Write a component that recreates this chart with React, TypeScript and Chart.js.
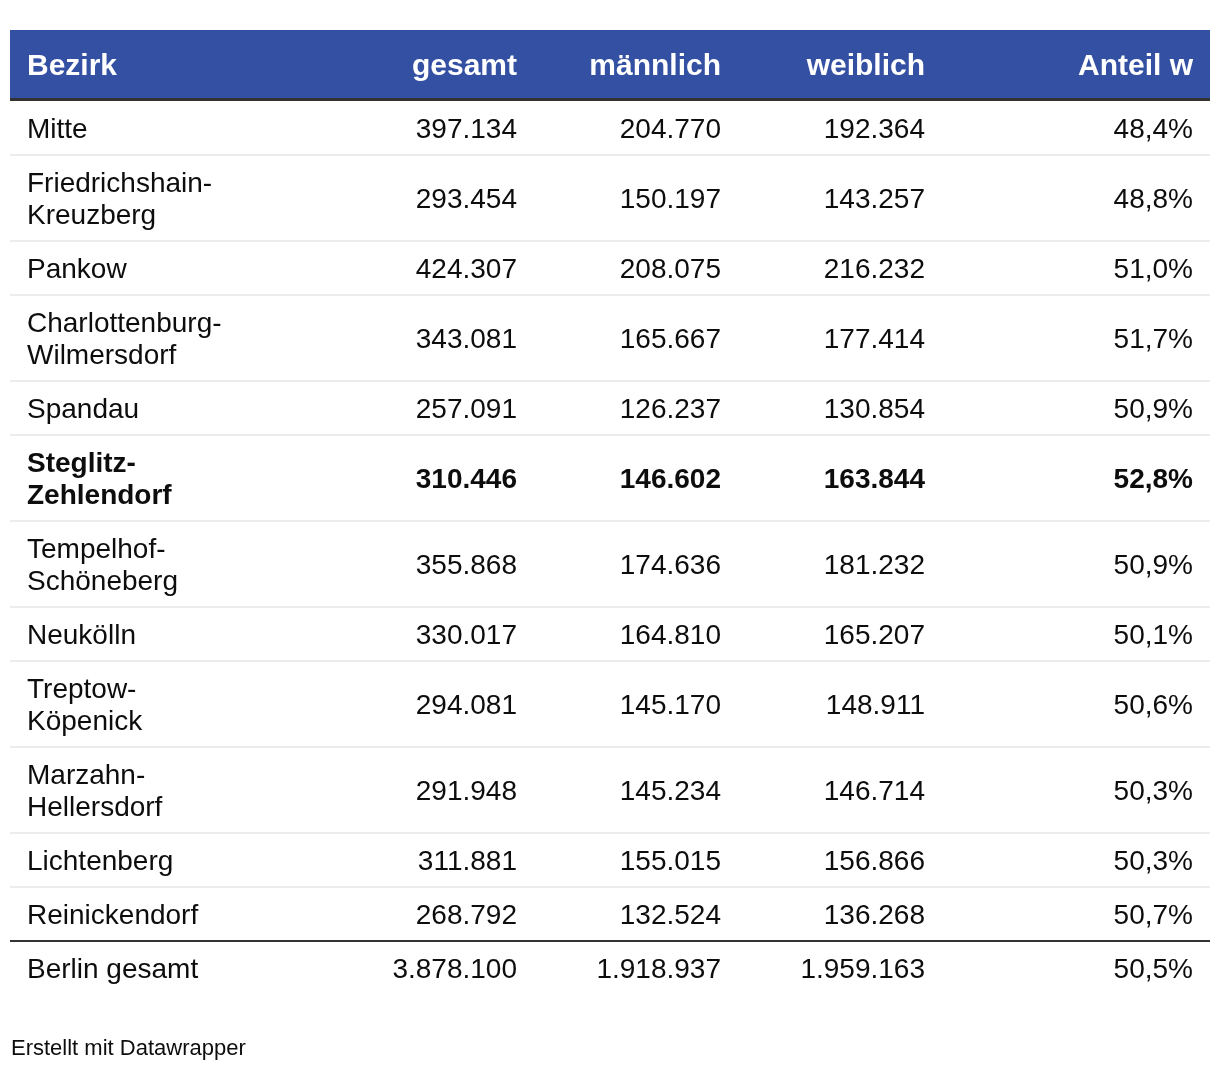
import React, { useEffect, useRef } from "react";
import { Chart, registerables } from "chart.js";

Chart.register(...registerables);

const headers = ["Bezirk", "gesamt", "männlich", "weiblich", "Anteil w"];
const districts = [
  "Mitte",
  "Friedrichshain-Kreuzberg",
  "Pankow",
  "Charlottenburg-Wilmersdorf",
  "Spandau",
  "Steglitz-Zehlendorf",
  "Tempelhof-Schöneberg",
  "Neukölln",
  "Treptow-Köpenick",
  "Marzahn-Hellersdorf",
  "Lichtenberg",
  "Reinickendorf",
];
const gesamt = [397134, 293454, 424307, 343081, 257091, 310446, 355868, 330017, 294081, 291948, 311881, 268792];
const maennlich = [204770, 150197, 208075, 165667, 126237, 146602, 174636, 164810, 145170, 145234, 155015, 132524];
const weiblich = [192364, 143257, 216232, 177414, 130854, 163844, 181232, 165207, 148911, 146714, 156866, 136268];
const anteilW = [48.4, 48.8, 51.0, 51.7, 50.9, 52.8, 50.9, 50.1, 50.6, 50.3, 50.3, 50.7];
const highlighted = ["Steglitz-Zehlendorf"];
const totalLabel = "Berlin gesamt";
const totalValues = [3878100, 1918937, 1959163];
const totalAnteil = 50.5;
const footerText = "Erstellt mit Datawrapper";

const FONT = "'Liberation Sans'";

function fmtInt(v: number): string {
  const s = Math.round(v).toString();
  return s.replace(/\B(?=(\d{3})+(?!\d))/g, ".");
}
function fmtPct(v: number): string {
  return v.toFixed(1).replace(".", ",") + "%";
}

function wrapLabel(ctx: CanvasRenderingContext2D, text: string, maxW: number): string[] {
  if (ctx.measureText(text).width <= maxW) return [text];
  const parts = text.split(/(?<=-)|\s+/);
  const lines: string[] = [];
  let cur = "";
  for (const p of parts) {
    const sep = cur && !cur.endsWith("-") ? " " : "";
    const test = cur + sep + p;
    if (cur && ctx.measureText(test).width > maxW) {
      lines.push(cur);
      cur = p;
    } else cur = test;
  }
  if (cur) lines.push(cur);
  return lines;
}

const tablePlugin = {
  id: "tablePlugin",
  afterDraw(chart: any) {
    const ctx: CanvasRenderingContext2D = chart.ctx;
    const xs = chart.scales.x;
    const ys = chart.scales.y;
    const X = (v: number) => xs.getPixelForValue(v);
    const Y = (v: number) => ys.getPixelForValue(v);

    const left = 10, right = 1210;
    const padL = 17;
    const colRights = [517, 721, 925, 1193];
    const bodySize = 28;
    const headSize = 30;
    const lineH = 32;
    const rowH = 54;

    ctx.save();
    ctx.fillStyle = "#3350a3";
    ctx.fillRect(X(left), Y(30), X(right) - X(left), Y(98) - Y(30));
    ctx.fillStyle = "#333333";
    ctx.fillRect(X(left), Y(98), X(right) - X(left), Y(101) - Y(98));

    ctx.fillStyle = "#ffffff";
    ctx.font = `bold ${headSize}px ${FONT}`;
    const hBase = Y(64) + headSize * 0.36;
    ctx.textAlign = "left";
    ctx.fillText(headers[0], X(left + padL), hBase);
    ctx.textAlign = "right";
    for (let i = 1; i < headers.length; i++) ctx.fillText(headers[i], X(colRights[i - 1]), hBase);

    const drawRow = (top: number, label: string, vals: string[], bold: boolean, lineColor: string) => {
      ctx.font = `${bold ? "bold " : ""}${bodySize}px ${FONT}`;
      const lines = wrapLabel(ctx, label, 205);
      const h = rowH + lineH * (lines.length - 1);
      const center = top + h / 2;
      ctx.fillStyle = "#0d0d0d";
      ctx.textAlign = "left";
      lines.forEach((ln, k) => {
        const c = center + (k - (lines.length - 1) / 2) * lineH;
        ctx.fillText(ln, X(left + padL), Y(c) + bodySize * 0.355);
      });
      ctx.textAlign = "right";
      vals.forEach((v, k) => ctx.fillText(v, X(colRights[k]), Y(center) + bodySize * 0.355));
      if (lineColor) {
        ctx.fillStyle = lineColor;
        ctx.fillRect(X(left), Y(top + h - 1), X(right) - X(left), Y(top + h + 1) - Y(top + h - 1));
      }
      return top + h;
    };

    let top = 101;
    districts.forEach((d, i) => {
      const last = i === districts.length - 1;
      top = drawRow(
        top,
        d,
        [fmtInt(gesamt[i]), fmtInt(maennlich[i]), fmtInt(weiblich[i]), fmtPct(anteilW[i])],
        highlighted.includes(d),
        last ? "#333333" : "#ececec"
      );
    });
    drawRow(top, totalLabel, [...totalValues.map(fmtInt), fmtPct(totalAnteil)], false, "");

    ctx.fillStyle = "#0d0d0d";
    ctx.textAlign = "left";
    ctx.font = `22px ${FONT}`;
    ctx.fillText(footerText, X(11), Y(1047) + 22 * 0.355);
    ctx.restore();
  },
};

export default function App() {
  const ref = useRef<HTMLCanvasElement>(null);
  useEffect(() => {
    if (!ref.current) return;
    const chart = new Chart(ref.current, {
      type: "scatter",
      data: { datasets: [{ data: [], pointRadius: 0 }] },
      options: {
        animation: false,
        responsive: false,
        devicePixelRatio: 1,
        layout: { padding: 0 },
        plugins: { legend: { display: false }, tooltip: { enabled: false } },
        scales: {
          x: { type: "linear", min: 0, max: 1220, display: false },
          y: { type: "linear", min: 0, max: 1068, reverse: true, display: false },
        },
      },
      plugins: [tablePlugin],
    });
    let alive = true;
    const fonts: any = (document as any).fonts;
    if (fonts && fonts.load) {
      Promise.all([
        fonts.load(`28px ${FONT}`),
        fonts.load(`bold 28px ${FONT}`),
      ])
        .catch(() => null)
        .then(() => {
          if (alive) chart.draw();
        });
    }
    return () => {
      alive = false;
      chart.destroy();
    };
  }, []);
  return (
    <div style={{ position: "absolute", left: 0, top: 0, width: 1220, height: 1068, background: "#fff", fontFamily: FONT }}>
      <canvas ref={ref} width={1220} height={1068} />
    </div>
  );
}
